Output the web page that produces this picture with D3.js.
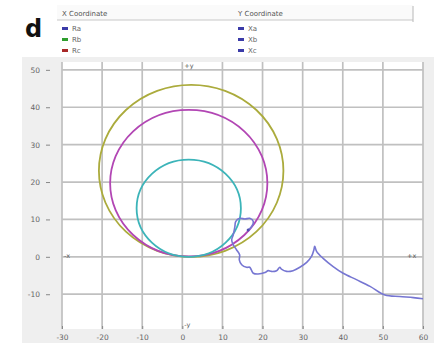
<!DOCTYPE html>
<html>
<head>
<meta charset="utf-8">
<script src="https://cdn.jsdelivr.net/npm/d3@7"></script>
<style>
  body { margin: 0; background: #fff; }
  svg text { font-family: "DejaVu Sans", sans-serif; }
</style>
</head>
<body>
<div id="chart"></div>
<script>

const FRAME_WIDTH = 439;
const FRAME_HEIGHT = 345;

// axis ticks
const X_TICKS = [-30, -20, -10, 0, 10, 20, 30, 40, 50, 60];
const Y_TICKS = [-10, 0, 10, 20, 30, 40, 50];

// legend entries
const LEGEND_X = ["Ra", "Rb", "Rc"];
const LEGEND_Y = ["Xa", "Xb", "Xc"];
const LEGEND_X_COLORS = ["#3b3ba8", "#2e9e2e", "#a82828"];
const LEGEND_Y_COLORS = ["#3b3ba8", "#3b3ba8", "#3b3ba8"];

// the three circles: centre x, centre y, radius (data units)
const CIRCLE_NAMES = ["outer", "middle", "inner"];
const CIRCLE_CX = [2.2, 1.6, 1.6];
const CIRCLE_CY = [23, 19.7, 13];
const CIRCLE_R = [23, 19.6, 13];
const CIRCLE_COLORS = ["#abab3c", "#b246b4", "#3cb4b9"];

// trajectory
const PATH_X = [16.4, 17.3, 17.7, 16.8, 15.6, 14.3, 13.3, 13.1, 12.7, 12.3, 12.7, 13.5,
                14.3, 14.2, 14.8, 16.0, 16.8, 17.2, 17.7, 18.9, 20.6, 21.4, 22.2, 23.5,
                24.3, 24.7, 26.0, 27.6, 29.3, 31.0, 32.2, 32.8, 33.0, 33.5, 35.1, 37.6,
                40.1, 43.4, 46.8, 50.5, 54.2, 57.6, 60];
const PATH_Y = [7.2, 8.1, 9.4, 10.3, 10.1, 10.3, 9.4, 8.1, 5.9, 4.5, 3.2, 1.9,
                0.5, -0.8, -2.1, -2.8, -2.8, -3.5, -4.4, -4.6, -4.2, -3.7, -3.9, -3.7,
                -2.8, -3.3, -3.9, -3.7, -2.8, -1.5, 0.1, 1.9, 2.8, 1.4, -0.4, -2.6,
                -4.4, -6.1, -7.9, -10.2, -10.6, -10.9, -11.2];

const PLOT = {left: 62, right: 423, top: 62, bottom: 329};

const svg = d3.select("#chart")
              .append("svg")
                .attr("width", FRAME_WIDTH)
                .attr("height", FRAME_HEIGHT);

// grey panel behind the plot
svg.append("rect")
    .attr("x", 22).attr("y", 57)
    .attr("width", 412).attr("height", 286)
    .attr("fill", "#efefef");

const X_SCALE = d3.scaleLinear()
                  .domain([-30, 60])
                  .range([PLOT.left, PLOT.right]);
const Y_SCALE = d3.scaleLinear()
                  .domain([-19.3, 52.1])
                  .range([PLOT.bottom, PLOT.top]);

svg.append("rect")
    .attr("x", PLOT.left).attr("y", PLOT.top)
    .attr("width", PLOT.right - PLOT.left)
    .attr("height", PLOT.bottom - PLOT.top)
    .attr("fill", "#fff");

// grid
svg.append("g").selectAll("line")
    .data(X_TICKS)
    .enter().append("line")
      .attr("x1", d => X_SCALE(d)).attr("x2", d => X_SCALE(d))
      .attr("y1", PLOT.top).attr("y2", PLOT.bottom)
      .attr("stroke", "#c0c0c0").attr("stroke-width", 1.7);

svg.append("g").selectAll("line")
    .data(Y_TICKS)
    .enter().append("line")
      .attr("x1", PLOT.left).attr("x2", PLOT.right)
      .attr("y1", d => Y_SCALE(d)).attr("y2", d => Y_SCALE(d))
      .attr("stroke", "#c0c0c0").attr("stroke-width", 1.7);

// axes (labels only, the tick is a small dash next to the label)
const fmt = d => String(d);
const xAxis = svg.append("g")
    .attr("transform", `translate(0,${PLOT.bottom})`)
    .call(d3.axisBottom(X_SCALE).tickValues(X_TICKS).tickFormat(fmt).tickSize(3).tickPadding(3));
const yAxis = svg.append("g")
    .attr("transform", `translate(${PLOT.left - 16},0)`)
    .call(d3.axisLeft(Y_SCALE).tickValues(Y_TICKS).tickFormat(fmt).tickSize(0).tickPadding(6));

[xAxis, yAxis].forEach(a => {
  a.select(".domain").remove();
  a.selectAll("text").attr("font-size", 7.5).attr("fill", "#666");
  a.selectAll(".tick line").attr("stroke", "#888");
});
xAxis.selectAll(".tick line").attr("transform", "translate(0,-3)");
yAxis.selectAll(".tick").append("line")
    .attr("x1", 0).attr("x2", 4)
    .attr("stroke", "#888");

// direction markers
const markers = [
  {t: "+y", x: X_SCALE(0) + 2, y: PLOT.top + 6},
  {t: "-y", x: X_SCALE(0) + 2, y: PLOT.bottom - 2},
  {t: "-x", x: PLOT.left + 2, y: Y_SCALE(0) + 1},
  {t: "+x", x: PLOT.right - 16, y: Y_SCALE(0) + 1}
];
svg.append("g").selectAll("text")
    .data(markers)
    .enter().append("text")
      .attr("x", d => d.x).attr("y", d => d.y)
      .attr("font-size", 6.5).attr("fill", "#555")
      .text(d => d.t);

// circles
svg.append("g").selectAll("ellipse")
    .data(CIRCLE_NAMES)
    .enter().append("ellipse")
      .attr("cx", (d, i) => X_SCALE(CIRCLE_CX[i]))
      .attr("cy", (d, i) => Y_SCALE(CIRCLE_CY[i]))
      .attr("rx", (d, i) => X_SCALE(CIRCLE_R[i]) - X_SCALE(0))
      .attr("ry", (d, i) => Y_SCALE(0) - Y_SCALE(CIRCLE_R[i]))
      .attr("fill", "none")
      .attr("stroke", (d, i) => CIRCLE_COLORS[i])
      .attr("stroke-width", 1.8);

// trajectory
const line = d3.line()
               .x((d, i) => X_SCALE(PATH_X[i]))
               .y((d, i) => Y_SCALE(PATH_Y[i]))
               .curve(d3.curveCatmullRom);
svg.append("path")
    .datum(PATH_X)
    .attr("d", line)
    .attr("fill", "none")
    .attr("stroke", "#7676d2")
    .attr("stroke-width", 1.6);

svg.append("circle")
    .attr("cx", X_SCALE(PATH_X[0])).attr("cy", Y_SCALE(PATH_Y[0]))
    .attr("r", 1.5).attr("fill", "#5050b0");

// panel letter
svg.append("text")
    .attr("x", 25).attr("y", 37)
    .attr("font-size", 24).attr("font-weight", "bold")
    .attr("fill", "#111")
    .text("d");

// legend
const legend = svg.append("g");
legend.append("rect")
    .attr("x", 57).attr("y", 5).attr("width", 356).attr("height", 15)
    .attr("fill", "#fafafa");
legend.append("line")
    .attr("x1", 57).attr("x2", 413).attr("y1", 20).attr("y2", 20)
    .attr("stroke", "#c8c8c8");
legend.append("line")
    .attr("x1", 413).attr("x2", 413).attr("y1", 6).attr("y2", 22)
    .attr("stroke", "#b8b8b8");
legend.append("text").attr("x", 62).attr("y", 16)
    .attr("font-size", 7).attr("fill", "#555").text("X Coordinate");
legend.append("text").attr("x", 238).attr("y", 16)
    .attr("font-size", 7).attr("fill", "#555").text("Y Coordinate");

function legendColumn(names, colors, x0) {
  const g = legend.append("g");
  g.selectAll("rect")
    .data(names)
    .enter().append("rect")
      .attr("x", x0).attr("y", (d, i) => 27 + i * 11)
      .attr("width", 6).attr("height", 3)
      .attr("fill", (d, i) => colors[i]);
  g.selectAll("text")
    .data(names)
    .enter().append("text")
      .attr("x", x0 + 10).attr("y", (d, i) => 31 + i * 11)
      .attr("font-size", 7).attr("fill", "#666")
      .text(d => d);
}
legendColumn(LEGEND_X, LEGEND_X_COLORS, 62);
legendColumn(LEGEND_Y, LEGEND_Y_COLORS, 238);

</script>
</body>
</html>
